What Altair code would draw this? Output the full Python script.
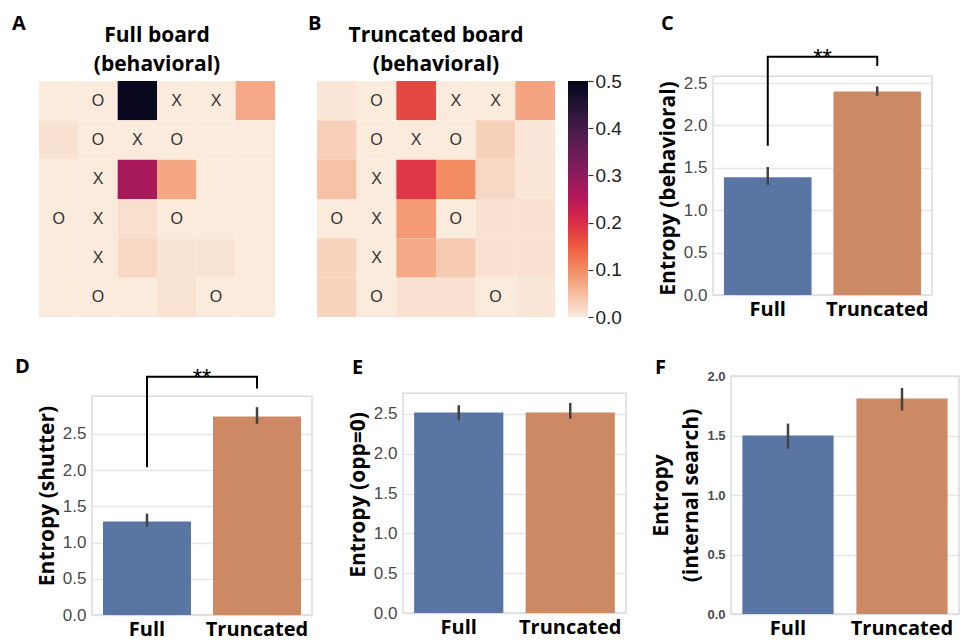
import altair as alt
import pandas as pd

# ---------------- data ----------------
CONDITIONS = ["Full", "Truncated"]
BAR_COLORS = ["#5975a4", "#cc8963"]

C_MEAN = [1.39, 2.40]
C_LO = [1.30, 2.35]
C_HI = [1.51, 2.46]
C_BRACKET = [1.76, 2.81, 2.81, 2.70]

D_MEAN = [1.29, 2.74]
D_LO = [1.22, 2.64]
D_HI = [1.40, 2.87]
D_BRACKET = [2.04, 3.29, 3.29, 3.13]

E_MEAN = [2.52, 2.52]
E_LO = [2.42, 2.44]
E_HI = [2.61, 2.64]

F_MEAN = [1.50, 1.81]
F_LO = [1.39, 1.71]
F_HI = [1.60, 1.90]

TICKS_25 = [0, 0.5, 1.0, 1.5, 2.0, 2.5]
TICKS_20 = [0, 0.5, 1.0, 1.5, 2.0]

BOARD_PIECES = [
    ["", "O", "", "X", "X", ""],
    ["", "O", "X", "O", "", ""],
    ["", "X", "", "", "", ""],
    ["O", "X", "", "O", "", ""],
    ["", "X", "", "", "", ""],
    ["", "O", "", "", "O", ""],
]
FULL_PROBS = [
    [0.0, 0.0, 0.49, 0.0, 0.0, 0.07],
    [0.01, 0.0, 0.0, 0.0, 0.0, 0.0],
    [0.0, 0.0, 0.27, 0.073, 0.0, 0.0],
    [0.0, 0.0, 0.013, 0.0, 0.0, 0.0],
    [0.0, 0.0, 0.02, 0.008, 0.008, 0.0],
    [0.0, 0.0, 0.0, 0.008, 0.0, 0.0],
]
TRUNC_PROBS = [
    [0.005, 0.0, 0.17, 0.0, 0.0, 0.075],
    [0.03, 0.0, 0.0, 0.0, 0.028, 0.005],
    [0.045, 0.0, 0.19, 0.10, 0.02, 0.005],
    [0.0, 0.0, 0.085, 0.0, 0.01, 0.01],
    [0.025, 0.0, 0.07, 0.035, 0.01, 0.01],
    [0.025, 0.0, 0.01, 0.01, 0.0, 0.005],
]
COLOR_STOPS = [0.0, 0.05, 0.10, 0.15, 0.20, 0.25, 0.30, 0.35, 0.40, 0.45, 0.50]
ROCKET_R = ["#faebdd", "#f6bc9f", "#f38c63", "#ed5a40", "#da2d45", "#b8175a",
            "#8e1b5c", "#691e57", "#451c48", "#221331", "#03051a"]
CBAR_TICKS = [0.0, 0.1, 0.2, 0.3, 0.4, 0.5]

BOLD_FONT = "Open Sans"
NUM_FONT = "Liberation Sans"

SPACER_DF = pd.DataFrame({"v": [0]})
NO_FRAME = alt.ViewBackground(stroke=None, fill=None)


def spacer(w, h, let=None, dx=0, dy=0):
    if let is None:
        return alt.Chart(SPACER_DF).mark_point(opacity=0, size=1).properties(
            width=w, height=h, view=NO_FRAME)
    return alt.Chart(pd.DataFrame({"t": [let]})).mark_text(
        font=BOLD_FONT, fontWeight="bold", fontSize=20, align="left",
        baseline="alphabetic", color="black").encode(
        text="t:N", x=alt.value(dx), y=alt.value(dy)).properties(
        width=w, height=h, view=NO_FRAME)


def heatmap(probs, title, width, height):
    rows = []
    for r in range(6):
        for c in range(6):
            rows.append({"row": r, "col": c, "p": probs[r][c], "piece": BOARD_PIECES[r][c]})
    df = pd.DataFrame(rows)
    base = alt.Chart(df)
    xs = alt.X("col:O", axis=None, scale=alt.Scale(paddingInner=0, paddingOuter=0))
    ys = alt.Y("row:O", axis=None, scale=alt.Scale(paddingInner=0, paddingOuter=0))
    rect = base.mark_rect(strokeWidth=0).encode(
        x=xs, y=ys,
        color=alt.Color("p:Q", legend=None,
                        scale=alt.Scale(domain=COLOR_STOPS, range=ROCKET_R, interpolate="rgb")),
    )
    txt = base.mark_text(fontSize=16, font=NUM_FONT, color="#333333").encode(
        x=xs, y=ys, text="piece:N")
    return alt.layer(rect, txt).properties(
        width=width, height=height, view=NO_FRAME,
        title=alt.TitleParams(title, font=BOLD_FONT, fontSize=21, fontWeight="bold",
                              anchor="middle", frame="group", offset=6, lineHeight=29,
                              color="black"))


def colorbar(height):
    cb = pd.DataFrame({"lo": [0.0], "hi": [0.5]})
    stops = [alt.GradientStop(offset=v / 0.5, color=c) for v, c in zip(COLOR_STOPS, ROCKET_R)]
    grad = alt.LinearGradient(gradient="linear", stops=stops, x1=0, x2=0, y1=1, y2=0)
    return alt.Chart(cb).mark_rect(color=grad).encode(
        y=alt.Y("lo:Q", scale=alt.Scale(domain=[0, 0.5], nice=False),
                axis=alt.Axis(orient="right", values=CBAR_TICKS, format=".1f", title=None,
                              domain=False, grid=False, ticks=True, tickSize=5,
                              tickColor="#333333", tickWidth=1.2, labelFont=NUM_FONT,
                              labelFontSize=19, labelColor="#222222", labelPadding=2)),
        y2="hi:Q",
    ).properties(width=20, height=height, view=NO_FRAME)


def bar_panel(mean, lo, hi, ymax, frame_top, ytitle, width, height,
              tick_values, tick_size=17, tick_bold=False, bracket=None):
    df = pd.DataFrame({"cond": CONDITIONS, "mean": mean, "lo": lo, "hi": hi})
    xenc = alt.X("cond:N", sort=CONDITIONS,
                 scale=alt.Scale(paddingInner=0.2, paddingOuter=0.1),
                 axis=alt.Axis(title=None, labelAngle=0, labelFont=BOLD_FONT,
                               labelFontWeight="bold", labelFontSize=20, labelColor="black",
                               labelPadding=4, domain=False, ticks=False, grid=False))
    yscale = alt.Scale(domain=[0, ymax], nice=False)
    yaxis = alt.Axis(title=ytitle, values=tick_values, format=".1f", domain=False,
                     ticks=False, grid=True, gridColor="#e6e6e6", gridWidth=1.5,
                     labelFont=NUM_FONT, labelFontSize=tick_size, labelColor="#4a4a4a",
                     labelFontWeight="bold" if tick_bold else "normal",
                     labelPadding=6, titleFont=BOLD_FONT, titleFontSize=21,
                     titleFontWeight="bold", titleColor="black", titlePadding=5,
                     titleLineHeight=30)

    def Y(field):
        return alt.Y(field, scale=yscale, axis=yaxis)

    frame = alt.Chart(pd.DataFrame({"f0": [0.0], "f1": [frame_top]})).mark_rect(
        fillOpacity=0, stroke="#dcdcdc", strokeWidth=1.5, clip=False).encode(
        y=Y("f0:Q"), y2="f1:Q")
    bars = alt.Chart(df).mark_bar().encode(
        x=xenc, y=Y("mean:Q"),
        color=alt.Color("cond:N", legend=None,
                        scale=alt.Scale(domain=CONDITIONS, range=BAR_COLORS)),
    )
    err = alt.Chart(df).mark_rule(color="#424242", strokeWidth=2.5).encode(
        x=xenc, y=Y("lo:Q"), y2="hi:Q")
    layers = [frame, bars, err]
    if bracket is not None:
        bdf = pd.DataFrame({"cond": ["Full", "Full", "Truncated", "Truncated"],
                            "y": bracket, "k": [0, 1, 2, 3]})
        line = alt.Chart(bdf).mark_line(color="black", strokeWidth=2, clip=False).encode(
            x=xenc, y=Y("y:Q"), order="k:Q")
        star = alt.Chart(pd.DataFrame({"t": ["**"], "y": [bracket[1]]})).mark_text(
            font=NUM_FONT, fontSize=24, baseline="alphabetic", dy=9, color="black",
            clip=False).encode(text="t:N", x=alt.value(width / 2), y=Y("y:Q"))
        layers += [line, star]
    return alt.layer(*layers).properties(width=width, height=height, view=NO_FRAME)


# ---------------- panels ----------------
A = heatmap(FULL_PROBS, ["Full board", "(behavioral)"], 236, 236)
B = heatmap(TRUNC_PROBS, ["Truncated board", "(behavioral)"], 238, 236)
CB = colorbar(236)
C = bar_panel(C_MEAN, C_LO, C_HI, 2.524, 2.58, "Entropy (behavioral)", 219, 214,
              TICKS_25, bracket=C_BRACKET)
D = bar_panel(D_MEAN, D_LO, D_HI, 3.301, 3.02, "Entropy (shutter)", 220, 239,
              TICKS_25, bracket=D_BRACKET)
E = bar_panel(E_MEAN, E_LO, E_HI, 2.977, 2.76, "Entropy (opp=0)", 223, 237, TICKS_25)
F = bar_panel(F_MEAN, F_LO, F_HI, 2.0, 2.0, ["Entropy", "(internal search)"], 228, 238,
              TICKS_20, tick_size=13, tick_bold=True)

# ---------------- layout ----------------
row1 = alt.hconcat(
    spacer(31, 236, "A", 4, -51), A,
    spacer(42, 236, "B", 33, -51), B,
    spacer(13, 236), CB,
    spacer(125, 236, "C", 73, -51), C,
    spacing=0, bounds="flush")
row2 = alt.hconcat(
    spacer(84, 238, "D", 7, -3), D,
    spacer(91, 238, "E", 40, -2), E,
    spacer(105, 238, "F", 29, -2), F,
    spacing=0, bounds="flush")

chart = alt.vconcat(row1, row2, spacing=30,
                    padding={"left": 0, "top": 6, "right": 0, "bottom": 4}
                    ).resolve_scale(color="independent").configure_view(stroke=None
                    ).configure(background="white")

chart.save("out.html", embed_options={"renderer": "svg", "actions": False})
